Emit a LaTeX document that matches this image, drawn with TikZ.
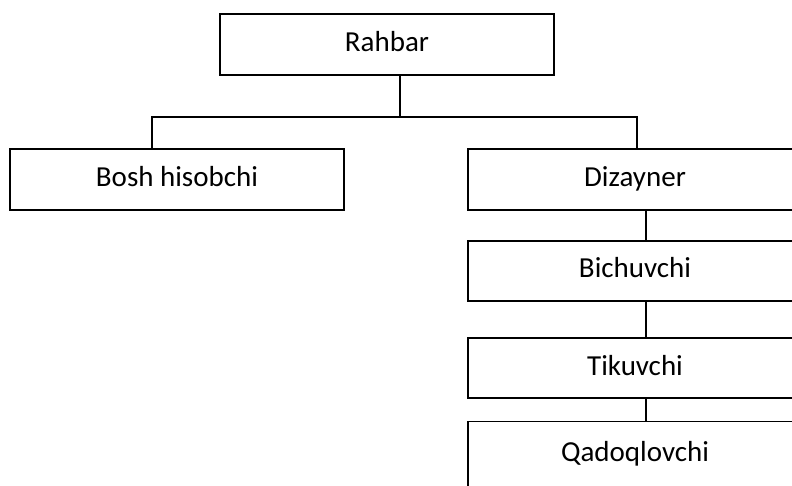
\documentclass[tikz,border=0pt]{standalone}
\usepackage{fontspec}
\setmainfont{Carlito}
\begin{document}
\begin{tikzpicture}[x=1pt,y=-1pt,
  box/.style={draw=black, line width=1.3pt, rectangle, minimum width=334pt, inner xsep=0pt, inner ysep=0pt,
    text height=20pt, text depth=6pt, font=\fontsize{29}{34}\selectfont},
  conn/.style={draw=black, line width=1.3pt}]
\useasboundingbox (0,0) rectangle (792,486);
\clip (0,0) rectangle (792,486);
\fill[white] (0,0) rectangle (792,486);
\node[box, minimum height=61pt] (r) at (387,44.5) {Rahbar};
\node[box, minimum height=61pt] (b) at (177,179.5) {Bosh hisobchi};
\node[box, minimum height=61pt] (d) at (635,179.5) {Dizayner};
\node[box, minimum height=60pt] (bi) at (635,271) {Bichuvchi};
\node[box, minimum height=60pt] (t) at (635,368) {Tikuvchi};
\node[box, anchor=north, text height=40pt, text depth=40pt] (q) at (635,421) {Qadoqlovchi};
\coordinate (j) at (400,117);
\coordinate (bl) at (152,117);
\coordinate (dr) at (637,117);
\coordinate (cx) at (646,0);
\draw[conn] (r.south -| j) -- (j);
\draw[conn] (b.north -| bl) |- (dr) -- (d.north -| dr);
\draw[conn] (d.south -| cx) -- (bi.north -| cx);
\draw[conn] (bi.south -| cx) -- (t.north -| cx);
\draw[conn] (t.south -| cx) -- (q.north -| cx);
\end{tikzpicture}
\end{document}
